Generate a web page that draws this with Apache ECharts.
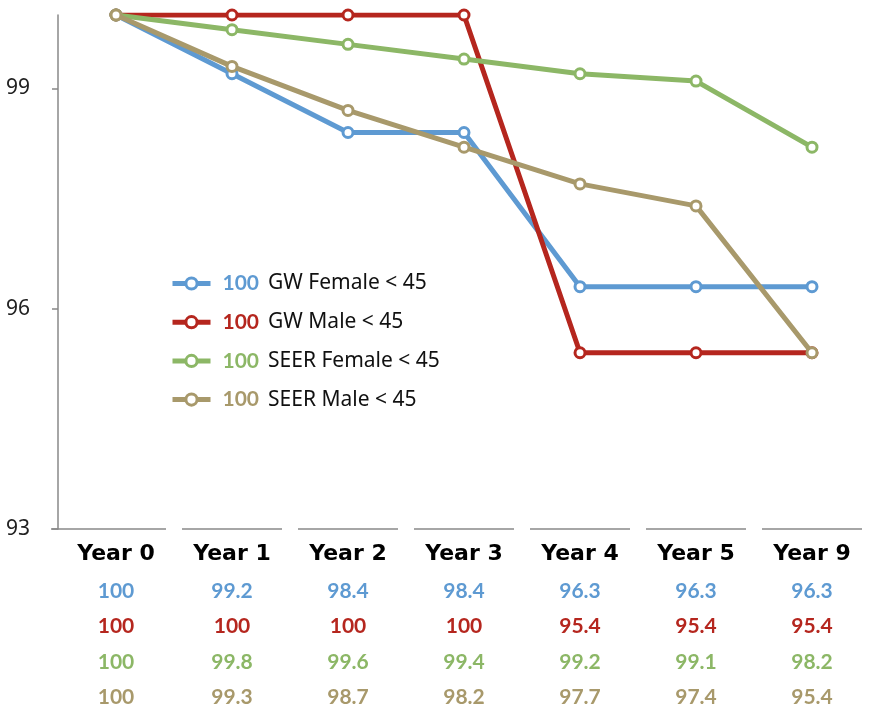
<!DOCTYPE html>
<html><head><meta charset="utf-8">
<script src="https://cdn.jsdelivr.net/npm/echarts@6/dist/echarts.min.js"></script>
<style>html,body{margin:0;padding:0;background:#fff;overflow:hidden}#c{width:872px;height:709px}</style>
</head><body><div id="c"></div>
<script>
const categories = ['Year 0','Year 1','Year 2','Year 3','Year 4','Year 5','Year 9'];
const seriesNames = ['GW Female < 45','GW Male < 45','SEER Female < 45','SEER Male < 45'];
const gwFemale = [100, 99.2, 98.4, 98.4, 96.3, 96.3, 96.3];
const gwMale = [100, 100, 100, 100, 95.4, 95.4, 95.4];
const seerFemale = [100, 99.8, 99.6, 99.4, 99.2, 99.1, 98.2];
const seerMale = [100, 99.3, 98.7, 98.2, 97.7, 97.4, 95.4];
const yTicks = [93, 96, 99];
const colors = ['#5e9ad2', '#b5261e', '#8cb766', '#a8996b'];

const allData = [gwFemale, gwMale, seerFemale, seerMale];
const keys = ['b','r','g','t'];
const valFont = 'Lato';

const rich = { y: { fontFamily: 'DejaVu Sans', fontWeight: 'bold', fontSize: 22, color: '#000', lineHeight: 38, align: 'center' } };
keys.forEach((k, i) => {
  rich[k] = { fontFamily: valFont, fontWeight: 'bold', fontSize: 21, color: colors[i], lineHeight: 35.5, align: 'center' };
});
const legendRich = { n: { fontFamily: 'Noto Sans', fontSize: 21, color: '#111', lineHeight: 24 } };
keys.forEach((k, i) => {
  legendRich['v' + i] = { fontFamily: valFont, fontWeight: 'bold', fontSize: 21, color: colors[i], lineHeight: 24, padding: [0, 9, 0, 7] };
});

const lineSeries = allData.map((d, i) => ({
  name: seriesNames[i], type: 'line', data: d,
  symbol: 'circle', symbolSize: 10,
  lineStyle: { color: colors[i], width: 5 },
  itemStyle: { color: '#fff', borderColor: colors[i], borderWidth: 3 },
  z: 3 + i
}));

const chart = echarts.init(document.getElementById('c'));
chart.setOption({
  animation: false,
  grid: { left: 58, right: 2, top: 15, bottom: 180, containLabel: false, outerBoundsMode: 'none' },
  legend: {
    orient: 'vertical', left: 165, top: 268, itemGap: 17.7,
    itemWidth: 38, itemHeight: 14,
    data: seriesNames,
    lineStyle: { width: 5 },
    itemStyle: { borderWidth: 3 },
    formatter: name => {
      const i = seriesNames.indexOf(name);
      return `{v${i}|${allData[i][0]}}{n|${name}}`;
    },
    textStyle: { rich: legendRich }
  },
  xAxis: {
    type: 'category', data: categories, boundaryGap: true,
    axisLine: { show: false }, axisTick: { show: false },
    axisLabel: {
      margin: 6, interval: 0,
      formatter: (v, idx) => {
        let s = `{y|${v}}`;
        keys.forEach((k, i) => { s += `\n{${k}|${allData[i][idx]}}`; });
        return s;
      },
      rich: rich
    }
  },
  yAxis: {
    type: 'value', min: 93, max: 100, interval: 3,
    splitLine: { show: false },
    axisLine: { show: true, lineStyle: { color: '#888', width: 1.5 } },
    axisTick: { show: true, length: 6, customValues: yTicks, lineStyle: { color: '#888', width: 1.5 } },
    axisLabel: { customValues: yTicks, margin: 28, fontFamily: 'Noto Sans', fontSize: 21, color: '#222' }
  },
  series: [
    {
      type: 'custom', silent: true, clip: false, z: 1,
      data: categories.map((c, i) => [i, 93]),
      renderItem: (params, api) => {
        const p = api.coord([api.value(0), api.value(1)]);
        const bw = api.size([1, 0])[0];
        const x1 = api.value(0) === 0 ? p[0] - bw / 2 - 7 : p[0] - bw / 2 + 8;
        const x2 = p[0] + bw / 2 - 8;
        return { type: 'line', shape: { x1: x1, y1: p[1], x2: x2, y2: p[1] }, style: { stroke: '#888', lineWidth: 1.5 } };
      }
    }
  ].concat(lineSeries)
});
</script></body></html>
